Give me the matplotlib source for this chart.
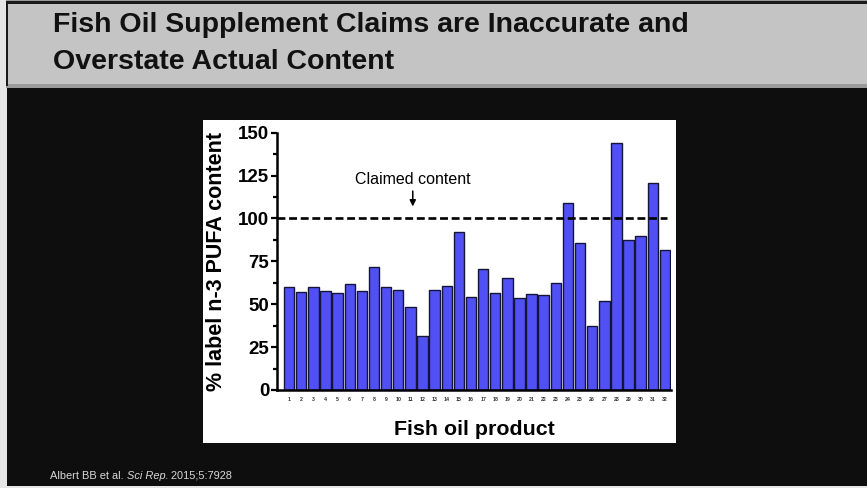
import matplotlib.pyplot as plt
from matplotlib.patches import Rectangle

# % of label n-3 PUFA content measured in each fish oil product
products = list(range(1, 33))
pct_label = [60.2, 57.3, 60.2, 57.7, 56.3, 61.8, 57.9, 71.5, 60.2, 58.3,
             48.4, 31.5, 58.3, 60.8, 91.9, 54.4, 70.5, 56.3, 65.5, 53.8,
             56.0, 55.4, 62.2, 108.8, 85.9, 37.5, 51.9, 144.2, 87.2, 90.0,
             120.5, 81.6]
claimed = 100
y_ticks = [0, 25, 50, 75, 100, 125, 150]

W, H = 867, 488
fig = plt.figure(figsize=(W / 100, H / 100), dpi=100)
fig.patch.set_facecolor('#0e0e0e')
plt.rcParams['font.family'] = ['Liberation Sans', 'DejaVu Sans']


def px_rect(x0, y0, x1, y1, **kw):
    # rectangle given in pixel coords from the top-left corner
    fig.patches.append(Rectangle((x0 / W, 1 - y1 / H), (x1 - x0) / W, (y1 - y0) / H,
                                 transform=fig.transFigure, zorder=-5, **kw))


# slide frame + title band
px_rect(0, 0, 7, H, facecolor='#e6e6e6', edgecolor='none')
px_rect(0, 486, W, H, facecolor='#e6e6e6', edgecolor='none')
px_rect(6, 0, W, 88, facecolor='#9a9a9a', edgecolor='none')
px_rect(7, 4, W, 84, facecolor='#c4c4c4', edgecolor='none')
px_rect(6, 1, W, 4, facecolor='#1a1a1a', edgecolor='none')
px_rect(6, 1, 8, 86, facecolor='#1a1a1a', edgecolor='none')

fig.text(53 / W, 1 - 25 / H, 'Fish Oil Supplement Claims are Inaccurate and',
         fontsize=20.5, fontweight='bold', color='#111111', va='center')
fig.text(53 / W, 1 - 62 / H, 'Overstate Actual Content',
         fontsize=20.5, fontweight='bold', color='#111111', va='center')

# white panel behind the chart
px_rect(203, 120, 676, 443, facecolor='white', edgecolor='none')

ax = fig.add_axes([277 / W, (H - 390) / H, 394 / W, 257.3 / H])
ax.set_zorder(2)
ax.set_facecolor('white')
ax.bar(products, pct_label, width=0.86, color='#5050f4', edgecolor='#15153a',
       linewidth=1.0, zorder=2)
ax.plot([0, 32.2], [claimed, claimed], color='black', lw=1.9,
        ls=(0, (3.0, 1.4)), zorder=3)

ax.set_xlim(0, 32.5)
ax.set_ylim(0, 150)
ax.set_yticks(y_ticks)
ax.set_yticks([v + 12.5 for v in y_ticks[:-1]], minor=True)
ax.set_yticklabels([str(v) for v in y_ticks], fontsize=13.5, fontweight='bold')
ax.tick_params(axis='y', which='major', length=4.5, width=1.6, pad=1)
ax.tick_params(axis='y', which='minor', length=3, width=1.6)
ax.set_xticks(products)
ax.set_xticklabels([str(p) for p in products], fontsize=3.8, fontweight='bold',
                   color='#333333')
ax.tick_params(axis='x', length=0, pad=5)
for side in ['top', 'right']:
    ax.spines[side].set_visible(False)
for side in ['left', 'bottom']:
    ax.spines[side].set_linewidth(1.8)

ax.set_ylabel('% label n-3 PUFA content', fontsize=15.5, fontweight='bold', labelpad=8)
ax.set_xlabel('Fish oil product', fontsize=15.4, fontweight='bold', labelpad=13)

ax.text(11.2, 123, 'Claimed content', fontsize=11.5, ha='center', va='center')
ax.annotate('', xy=(11.2, 107), xytext=(11.2, 116),
            arrowprops=dict(arrowstyle='-|>', color='black', lw=1.1,
                            mutation_scale=9, shrinkA=0, shrinkB=0))

# citation, journal name in italics
fig.canvas.draw()
r = fig.canvas.get_renderer()
x = 50 / W
y = 1 - 479 / H
for s, style in [('Albert BB et al. ', 'normal'), ('Sci Rep.', 'italic'),
                 (' 2015;5:7928', 'normal')]:
    t = fig.text(x, y, s, fontsize=7.9, color='#d8d8d8', style=style, va='baseline')
    bb = t.get_window_extent(r)
    x += bb.width / W

fig.savefig('out.png', dpi=100, facecolor=fig.get_facecolor())
